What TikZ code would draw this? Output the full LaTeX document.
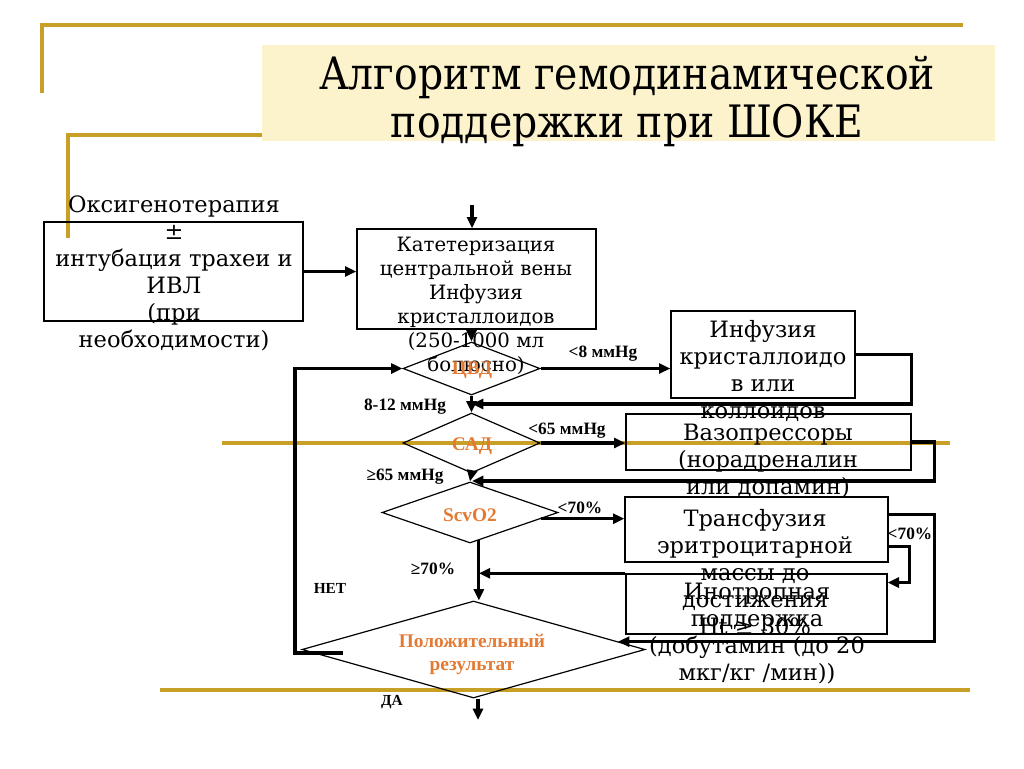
\documentclass[tikz,border=0pt]{standalone}
\usepackage{fontspec}
\setmainfont{DejaVu Serif}
\newfontfamily\titlefont{DejaVu Serif}[FakeStretch=0.88]
\newfontfamily\tnr{Liberation Serif}
\usetikzlibrary{shapes.geometric,arrows.meta,calc}
\definecolor{gold}{RGB}{200,160,40}
\definecolor{cream}{RGB}{252,243,204}
\definecolor{orng}{RGB}{226,122,52}
\begin{document}
\begin{tikzpicture}[x=0.75pt,y=-0.75pt,
  goldline/.style={draw=gold,line width=2.4pt},
  boxshape/.style={draw,line width=1pt,inner sep=0pt},
  dia/.style={diamond,draw,line width=0.9pt,inner sep=0pt,aspect=2},
  bigtxt/.style={align=center,inner sep=0pt,font=\fontsize{16.9}{20.25}\selectfont},
  midtxt/.style={align=center,inner sep=0pt,font=\fontsize{14.8}{18}\selectfont},
  lbl/.style={inner sep=0pt,font=\tnr\bfseries\fontsize{13}{15}\selectfont},
  smlbl/.style={inner sep=0pt,font=\tnr\bfseries\fontsize{11.5}{14}\selectfont},
  olbl/.style={inner sep=0pt,align=center,text=orng,font=\tnr\bfseries\fontsize{14.5}{17.25}\selectfont},
  conn/.style={line width=2.3pt,-{Triangle[length=8.5pt,width=7.5pt]}},
  wire/.style={line width=2.3pt}]
\useasboundingbox (0,0) rectangle (1024,768);

% decorative lines and title
\draw[goldline] (42,93) -- (42,25) -- (963,25);
\draw[goldline] (68,238) -- (68,135) -- (262,135);
\draw[goldline] (222,443) -- (950,443);
\draw[goldline] (160,690) -- (970,690);
\node[fill=cream,inner sep=0pt,minimum width=549.75pt,minimum height=72pt] (tbox) at (628.5,93) {};
\node[align=center,inner sep=0pt,font=\titlefont\fontsize{33.5}{36}\selectfont] (title) at (627,101)
  {Алгоритм гемодинамической\\поддержки при ШОКЕ};

% boxes
\node[boxshape,minimum width=194.25pt,minimum height=74.25pt] (b1) at (173.5,271.5) {};
\node[boxshape,minimum width=179.25pt,minimum height=75pt] (b2) at (476.5,279) {};
\node[boxshape,minimum width=138pt,minimum height=65.25pt] (b3) at (763,354.5) {};
\node[boxshape,minimum width=213.75pt,minimum height=42pt] (b4) at (768.5,442) {};
\node[boxshape,minimum width=197.25pt,minimum height=48.75pt] (b5) at (756.5,529.5) {};
\node[boxshape,minimum width=195.75pt,minimum height=45pt] (b6) at (756.5,604) {};

% diamonds
\node[dia,minimum width=102.75pt,minimum height=39.75pt] (d1) at (471.5,368.5) {};
\node[dia,minimum width=102.75pt,minimum height=45pt] (d2) at (471.5,443) {};
\node[dia,minimum width=132pt,minimum height=45.75pt] (d3) at (470,512.5) {};
\node[dia,minimum width=257.25pt,minimum height=72.75pt] (d4) at (473.5,649.5) {};

% box texts
\node[bigtxt] (t1) at (174,273) {Оксигенотерапия\\±\\интубация трахеи и\\ИВЛ\\(при\\необходимости)};
\node[midtxt] (t2) at (476,305.5) {Катетеризация\\центральной вены\\Инфузия\\кристаллоидов\\(250-1000 мл\\болюсно)};
\node[bigtxt] (t3) at (763,370.5) {Инфузия\\кристаллоидо\\в или\\коллоидов};
\node[bigtxt] (t4) at (768,461) {Вазопрессоры\\(норадреналин\\или допамин)};
\node[bigtxt] (t5) at (755,572.5) {Трансфузия\\эритроцитарной\\массы до\\достижения\\Ht ≥ 30\%};
\node[bigtxt] (t6) at (757,633.5) {Инотропная\\поддержка\\(добутамин (до 20\\мкг/кг /мин))};

% diamond texts
\node[olbl] (o1) at (472,370) {ЦВД};
\node[olbl] (o2) at (472,446) {САД};
\node[olbl] (o3) at (470,515) {ScvO2};
\node[olbl] (o4) at (472,654.5) {Положительный\\результат};

% coordinates
\coordinate (topin) at (472,205);
\coordinate (j1) at (472,404);
\coordinate (j2) at (472,481);
\coordinate (nstart) at (343,653);
\coordinate (nx) at (295,653);
\coordinate (botout) at (478,720);
\coordinate (s3) at ($(d3.south)!0.1!(d3.east)$);
\coordinate (s3r) at ($(d3.east)!0.2!(d3.south)$);

% connectors
\draw[conn] (topin) -- (topin |- b2.north);
\draw[conn] (b1.east) -- (b1.east -| b2.west);
\draw[conn] (b2.south -| d1.north) -- (d1.north);
\draw[conn] (d1.east) -- (d1.east -| b3.west);
\draw[conn] (b3.east) -- ++(56,0) |- (j1);
\draw[conn] (d1.south) -- (d2.north);
\draw[conn] (d2.east) -- (d2.east -| b4.west);
\draw[conn] (b4.east) -- ++(23,0) |- (j2);
\draw[conn] (d2.south) -- (d3.north);
\draw[conn] (s3r) -- (s3r -| b5.west);
\draw[conn] ($(b5.east)!0.5!(b5.south east)$) -- ++(21,0) |- ($(b6.east)!0.7!(b6.north east)$);
\draw[conn] ($(b5.east)!0.45!(b5.north east)$) -- ++(46,0) |- ($(d4.east)!0.16!(d4.north)$);
\draw[conn] (s3) -- (s3 |- d4.north);
\draw[conn] (b6.north west) -- (b6.north west -| s3);
\draw[conn] (nstart) -- (nx) |- (d1.west);
\draw[conn] (botout |- d4.south) -- (botout);

% labels
\node[lbl] (lb1) at (603,354) {<8 ммHg};
\node[lbl] (lb2) at (405,407) {8-12 ммHg};
\node[lbl] (lb3) at (567,431) {<65 ммHg};
\node[lbl] (lb4) at (405,477) {≥65 ммHg};
\node[lbl] (lb5) at (580,508) {<70\%};
\node[lbl] (lb6) at (910,534) {<70\%};
\node[lbl] (lb7) at (433,569) {≥70\%};
\node[smlbl] (lb8) at (330,588) {НЕТ};
\node[smlbl] (lb9) at (392,702) {ДА};
\end{tikzpicture}
\end{document}
